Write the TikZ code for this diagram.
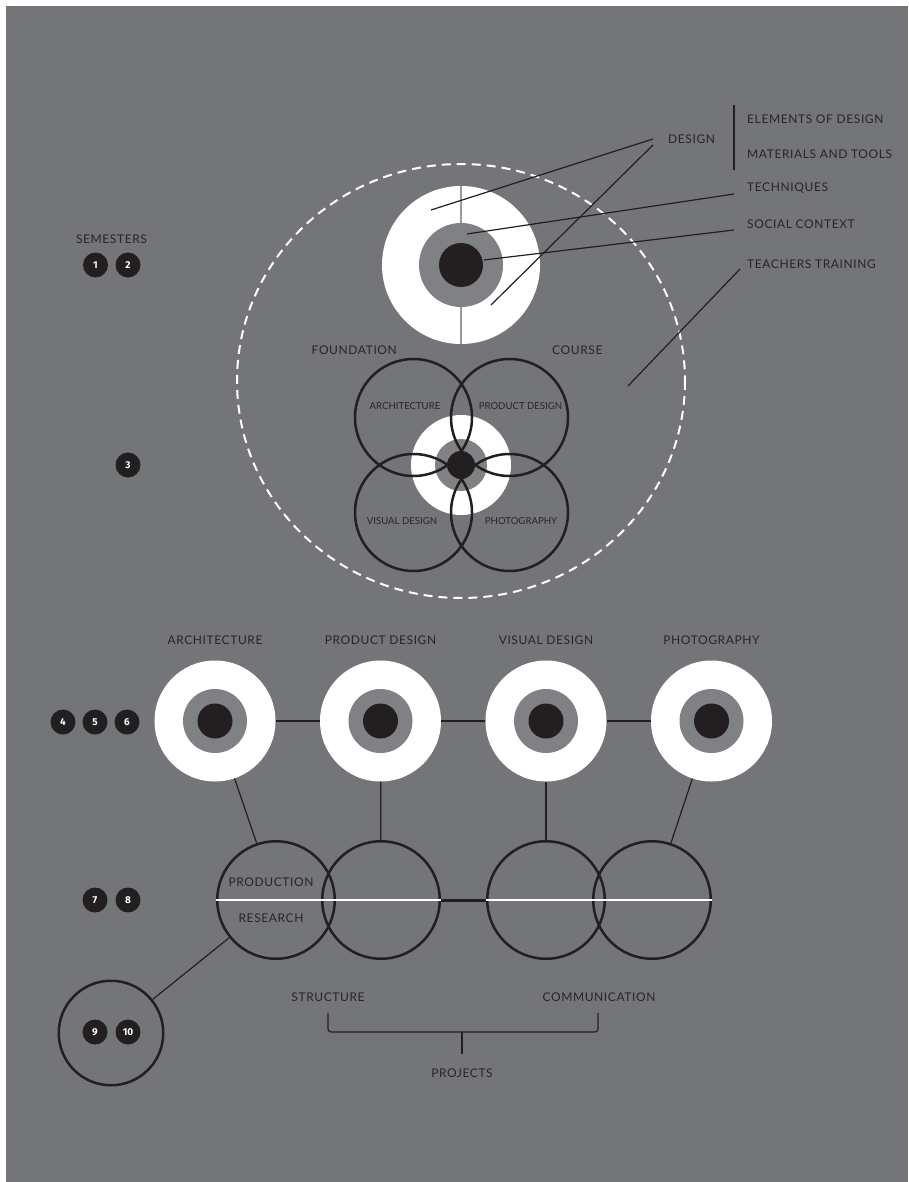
\documentclass[tikz,border=0pt]{standalone}
\usepackage{fontspec}
\setmainfont{Lato}
\newfontfamily\lblfont{Lato}[LetterSpace=5]
\newfontfamily\numfont{Fira Sans}
\usetikzlibrary{calc}
\definecolor{bg}{HTML}{747579}
\definecolor{ring}{HTML}{808185}
\definecolor{ink}{HTML}{231F20}
\definecolor{txt}{HTML}{262628}
\definecolor{vline}{HTML}{9A9A9E}
\begin{document}
\begin{tikzpicture}[x=1pt,y=-1pt,
  lbl/.style={text=txt, font=\lblfont\fontsize{12}{13}\selectfont, inner sep=0},
  small/.style={text=txt, font=\fontsize{9.6}{10}\selectfont, inner sep=0},
  badge/.style={circle, fill=ink, minimum size=25pt, inner sep=0, text=white, font=\numfont\bfseries\fontsize{10}{10}\selectfont},
  wdisc/.style={circle, fill=white, inner sep=0, minimum size=#1},
  gdisc/.style={circle, fill=ring, inner sep=0, minimum size=#1},
  bdisc/.style={circle, fill=ink, inner sep=0, minimum size=#1},
  ring/.style={circle, draw=ink, line width=2.5pt, inner sep=0, minimum size=#1},
  conn/.style={draw=ink, line width=1.2pt},
  wline/.style={draw=white, line width=2.5pt},
]
% background
\fill[white] (0,0) rectangle (908,1182);
\fill[bg] (6,6) rectangle (908,1182);
\useasboundingbox (0,0) rectangle (908,1182);

% ---------- top target ----------
\node[wdisc=158pt] (top) at (461,265) {};
\draw[draw=vline, line width=1.5pt] (top.north) -- (top.south);
\node[gdisc=84pt] (topg) at (461,265) {};
\node[bdisc=44pt] (topb) at (461,265) {};

% dashed boundary
\draw[white, line width=2pt, dash pattern=on 9pt off 6pt] (461,381) ellipse (224 and 217);

% right-hand labels
\node[lbl, anchor=west] (design) at (668,139) {DESIGN};
\node[lbl, anchor=west] (elem) at (747,119) {ELEMENTS OF DESIGN};
\node[lbl, anchor=west] (mat) at (747,154) {MATERIALS AND TOOLS};
\node[lbl, anchor=west] (tech) at (747,188) {TECHNIQUES};
\node[lbl, anchor=west] (soc) at (747,224) {SOCIAL CONTEXT};
\node[lbl, anchor=west] (teach) at (747,264) {TEACHERS TRAINING};
\coordinate (bartop) at (734,105);
\coordinate (barbot) at (734,170);
\draw[draw=ink, line width=1.5pt] (bartop) -- (barbot);

\coordinate (d1) at (653,139);
\coordinate (d2) at (653,145);
\coordinate (p1) at (431,210);
\coordinate (p2) at (491,305);
\coordinate (t1) at (734,194);
\coordinate (p3) at (467,234);
\coordinate (s1) at (734,230);
\coordinate (p4) at (484,260);
\coordinate (tt1) at (740,269);
\coordinate (p5) at (628,386);
\draw[conn] (d1) -- (p1);
\draw[conn] (d2) -- (p2);
\draw[conn] (t1) -- (p3);
\draw[conn] (s1) -- (p4);
\draw[conn] (tt1) -- (p5);

% ---------- foundation ----------
\node[lbl, anchor=east] (found) at (397,350) {FOUNDATION};
\node[lbl, anchor=west] (course) at (552,350) {COURSE};
\node[wdisc=100pt] (fw) at (461,465) {};
\node[gdisc=52pt] (fg) at (461,465) {};
\node[bdisc=28pt] (fb) at (461,465) {};
\node[ring=117pt] (fa) at (413.5,417.5) {};
\node[ring=117pt] (fp) at (509.5,417.5) {};
\node[ring=117pt] (fv) at (413.5,512.5) {};
\node[ring=117pt] (fph) at (509.5,512.5) {};
\node[small] at (405,406) {ARCHITECTURE};
\node[small] at (520.5,406) {PRODUCT DESIGN};
\node[small] at (402,521) {VISUAL DESIGN};
\node[small] at (521,521) {PHOTOGRAPHY};

% ---------- semesters ----------
\node[lbl] (sem) at (111.5,239) {SEMESTERS};
\node[badge] (b1) at (95.5,265) {1};
\node[badge] (b2) at (128,265) {2};
\node[badge] (b3) at (128,465) {3};
\node[badge] (b4) at (63,722) {4};
\node[badge] (b5) at (95,722) {5};
\node[badge] (b6) at (127,722) {6};
\node[badge] (b7) at (95,900) {7};
\node[badge] (b8) at (128,900) {8};

% ---------- specialisations ----------
\foreach \n/\x/\t in {sa/215/ARCHITECTURE, sp/380.5/PRODUCT DESIGN, sv/546/VISUAL DESIGN, sh/711.5/PHOTOGRAPHY}{
  \node[lbl] (\n l) at (\x,640) {\t};
  \node[wdisc=121pt] (\n) at (\x,721) {};
  \node[gdisc=64pt] (\n g) at (\x,721) {};
  \node[bdisc=35pt] (\n b) at (\x,721) {};
}
\draw[conn] (sa) -- (sp);
\draw[conn] (sp) -- (sv);
\draw[conn] (sv) -- (sh);

% lower circles
\node[ring=117.5pt] (c1) at (276,900) {};
\node[ring=117.5pt] (c2) at (381,900) {};
\node[ring=117.5pt] (c3) at (546,900) {};
\node[ring=117.5pt] (c4) at (652,900) {};
\draw[conn] (sa) -- (c1);
\draw[conn] (sp) -- (c2);
\draw[conn] (sv) -- (c3);
\draw[conn] (sh) -- (c4);
\draw[wline] (c1.west) -- (c2.east);
\draw[wline] (c3.west) -- (c4.east);
\draw[draw=ink, line width=3pt] (c2.east) -- (c3.west);
\node[lbl] (prodn) at (271,882) {PRODUCTION};
\node[lbl] (res) at (271,918) {RESEARCH};

% final semesters
\node[ring=104.5pt] (c9) at (111,1033) {};
\node[badge] (b9) at (95,1032) {9};
\node[badge] (b10) at (128,1032) {10};
\draw[conn] (c9) -- (c1);

% projects
\node[lbl] (struct) at (328,997) {STRUCTURE};
\node[lbl] (comm) at (599,997) {COMMUNICATION};
\node[lbl] (proj) at (462,1073) {PROJECTS};
\coordinate (bl) at (328,1013);
\coordinate (br) at (598,1013);
\coordinate (bm) at (462,1032);
\coordinate (bt) at (462,1054);
\draw[conn, rounded corners=3pt] (bl) |- (bm) -| (br);
\draw[conn] (bm) -- (bt);
\end{tikzpicture}
\end{document}
